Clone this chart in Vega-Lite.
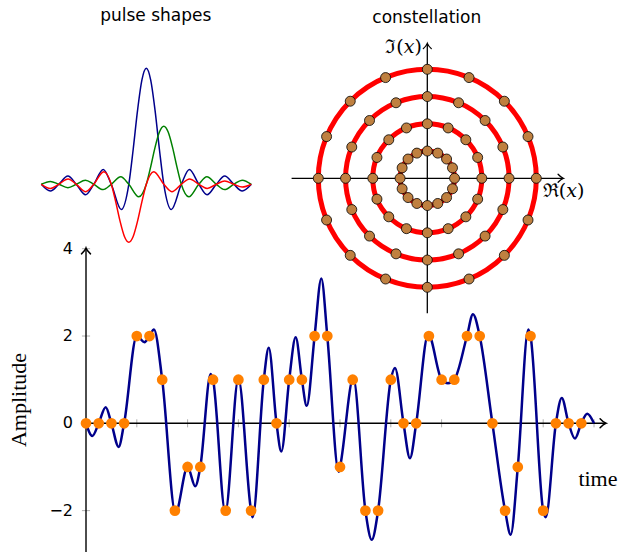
{
  "$schema": "https://vega.github.io/schema/vega-lite/v6.json",
  "width": 621,
  "height": 552,
  "padding": 0,
  "autosize": {"type": "none"},
  "background": "white",
  "config": {"view": {"stroke": null}},
  "datasets": {
    "signal": [
      {"t": 0, "v": 0}, {"t": 0.5, "v": -0.29}, {"t": 1, "v": 0}, {"t": 1.55, "v": 0.37}, {"t": 2, "v": 0},
      {"t": 2.57, "v": -0.54}, {"t": 3, "v": 0}, {"t": 4, "v": 2}, {"t": 4.6, "v": 1.86}, {"t": 5, "v": 2},
      {"t": 5.35, "v": 2.15}, {"t": 6, "v": 1}, {"t": 7.05, "v": -2.05}, {"t": 8, "v": -1}, {"t": 8.6, "v": -1.44},
      {"t": 9, "v": -1}, {"t": 9.82, "v": 1.13}, {"t": 10, "v": 1}, {"t": 10.97, "v": -2.03}, {"t": 12, "v": 1.02},
      {"t": 13, "v": -2}, {"t": 13.12, "v": -2.15}, {"t": 14, "v": 1}, {"t": 14.39, "v": 1.73}, {"t": 15, "v": 0},
      {"t": 15.38, "v": -0.645}, {"t": 16, "v": 1}, {"t": 16.51, "v": 1.97}, {"t": 17, "v": 1}, {"t": 17.38, "v": 0.4},
      {"t": 18, "v": 2}, {"t": 18.53, "v": 3.32}, {"t": 19, "v": 2}, {"t": 19.9, "v": -1.11}, {"t": 20, "v": -1},
      {"t": 21.05, "v": 1.03}, {"t": 22, "v": -2}, {"t": 22.5, "v": -2.67}, {"t": 23, "v": -2}, {"t": 24, "v": 1},
      {"t": 24.33, "v": 1.27}, {"t": 25, "v": 0}, {"t": 25.51, "v": -0.8}, {"t": 26, "v": 0}, {"t": 26.95, "v": 2.04},
      {"t": 28, "v": 1}, {"t": 28.5, "v": 0.92}, {"t": 29, "v": 1}, {"t": 30, "v": 2}, {"t": 30.47, "v": 2.5},
      {"t": 31, "v": 2}, {"t": 32, "v": 0}, {"t": 33, "v": -2}, {"t": 33.44, "v": -2.55}, {"t": 34, "v": -1},
      {"t": 34.83, "v": 2.15}, {"t": 35, "v": 2}, {"t": 36, "v": -2}, {"t": 36.2, "v": -2.15}, {"t": 37, "v": 0},
      {"t": 37.46, "v": 0.58}, {"t": 38, "v": 0}, {"t": 38.5, "v": -0.35}, {"t": 39, "v": 0}, {"t": 39.47, "v": 0.22},
      {"t": 40, "v": 0}
    ],
    "samples": [
      {"n": 0, "a": 0}, {"n": 1, "a": 0}, {"n": 2, "a": 0}, {"n": 3, "a": 0}, {"n": 4, "a": 2},
      {"n": 5, "a": 2}, {"n": 6, "a": 1}, {"n": 7, "a": -2}, {"n": 8, "a": -1}, {"n": 9, "a": -1},
      {"n": 10, "a": 1}, {"n": 11, "a": -2}, {"n": 12, "a": 1}, {"n": 13, "a": -2}, {"n": 14, "a": 1},
      {"n": 15, "a": 0}, {"n": 16, "a": 1}, {"n": 17, "a": 1}, {"n": 18, "a": 2}, {"n": 19, "a": 2},
      {"n": 20, "a": -1}, {"n": 21, "a": 1}, {"n": 22, "a": -2}, {"n": 23, "a": -2}, {"n": 24, "a": 1},
      {"n": 25, "a": 0}, {"n": 26, "a": 0}, {"n": 27, "a": 2}, {"n": 28, "a": 1}, {"n": 29, "a": 1},
      {"n": 30, "a": 2}, {"n": 31, "a": 2}, {"n": 32, "a": 0}, {"n": 33, "a": -2}, {"n": 34, "a": -1},
      {"n": 35, "a": 2}, {"n": 36, "a": -2}, {"n": 37, "a": 0}, {"n": 38, "a": 0}, {"n": 39, "a": 0}
    ],
    "xticks": [
      {"t": 4}, {"t": 8}, {"t": 12}, {"t": 16}, {"t": 20}, {"t": 24}, {"t": 28}, {"t": 32}, {"t": 36}, {"t": 40}
    ],
    "yticks": [{"v": -2}, {"v": 2}, {"v": 4}],
    "ylabels": [
      {"v": 4, "label": "4"}, {"v": 2, "label": "2"}, {"v": 0, "label": "0"}, {"v": -2, "label": "−2"}
    ],
    "pulse_centre": [
      {"t": -6, "v": 0}, {"t": -5.48, "v": -0.058}, {"t": -5, "v": 0}, {"t": -4.48, "v": 0.071}, {"t": -4, "v": 0},
      {"t": -3.47, "v": -0.091}, {"t": -3, "v": 0}, {"t": -2.46, "v": 0.128}, {"t": -2, "v": 0},
      {"t": -1.43, "v": -0.217}, {"t": -1, "v": 0}, {"t": -0.75, "v": 0.3}, {"t": -0.5, "v": 0.637},
      {"t": -0.25, "v": 0.9}, {"t": 0, "v": 1}, {"t": 0.25, "v": 0.9}, {"t": 0.5, "v": 0.637}, {"t": 0.75, "v": 0.3},
      {"t": 1, "v": 0}, {"t": 1.43, "v": -0.217}, {"t": 2, "v": 0}, {"t": 2.46, "v": 0.128}, {"t": 3, "v": 0},
      {"t": 3.47, "v": -0.091}, {"t": 4, "v": 0}, {"t": 4.48, "v": 0.071}, {"t": 5, "v": 0},
      {"t": 5.48, "v": -0.058}, {"t": 6, "v": 0}
    ],
    "pulse_late": [
      {"t": -6, "v": 0}, {"t": -5.48, "v": 0.0245}, {"t": -5, "v": 0}, {"t": -4.48, "v": -0.029}, {"t": -4, "v": 0},
      {"t": -3.48, "v": 0.0355}, {"t": -3, "v": 0}, {"t": -2.47, "v": -0.0457}, {"t": -2, "v": 0},
      {"t": -1.46, "v": 0.0642}, {"t": -1, "v": 0}, {"t": -0.43, "v": -0.1086}, {"t": 0, "v": 0},
      {"t": 0.25, "v": 0.15}, {"t": 0.5, "v": 0.318}, {"t": 0.75, "v": 0.45}, {"t": 1, "v": 0.5},
      {"t": 1.25, "v": 0.45}, {"t": 1.5, "v": 0.318}, {"t": 1.75, "v": 0.15}, {"t": 2, "v": 0},
      {"t": 2.43, "v": -0.1086}, {"t": 3, "v": 0}, {"t": 3.46, "v": 0.0642}, {"t": 4, "v": 0},
      {"t": 4.47, "v": -0.0457}, {"t": 5, "v": 0}, {"t": 5.48, "v": 0.0355}, {"t": 6, "v": 0}
    ],
    "pulse_early": [
      {"t": -6, "v": 0}, {"t": -5.48, "v": -0.0355}, {"t": -5, "v": 0}, {"t": -4.47, "v": 0.0457}, {"t": -4, "v": 0},
      {"t": -3.46, "v": -0.0642}, {"t": -3, "v": 0}, {"t": -2.43, "v": 0.1086}, {"t": -2, "v": 0},
      {"t": -1.75, "v": -0.15}, {"t": -1.5, "v": -0.318}, {"t": -1.25, "v": -0.45}, {"t": -1, "v": -0.5},
      {"t": -0.75, "v": -0.45}, {"t": -0.5, "v": -0.318}, {"t": -0.25, "v": -0.15}, {"t": 0, "v": 0},
      {"t": 0.43, "v": 0.1086}, {"t": 1, "v": 0}, {"t": 1.46, "v": -0.0642}, {"t": 2, "v": 0},
      {"t": 2.47, "v": 0.0457}, {"t": 3, "v": 0}, {"t": 3.48, "v": -0.0355}, {"t": 4, "v": 0},
      {"t": 4.48, "v": 0.029}, {"t": 5, "v": 0}, {"t": 5.48, "v": -0.0245}, {"t": 6, "v": 0}
    ],
    "rings": [{"r": 1}, {"r": 2}, {"r": 3}, {"r": 4}],
    "symbols": [
      {"re": 1, "im": 0}, {"re": 0.924, "im": 0.383}, {"re": 0.707, "im": 0.707}, {"re": 0.383, "im": 0.924},
      {"re": 0, "im": 1}, {"re": -0.383, "im": 0.924}, {"re": -0.707, "im": 0.707}, {"re": -0.924, "im": 0.383},
      {"re": -1, "im": 0}, {"re": -0.924, "im": -0.383}, {"re": -0.707, "im": -0.707}, {"re": -0.383, "im": -0.924},
      {"re": 0, "im": -1}, {"re": 0.383, "im": -0.924}, {"re": 0.707, "im": -0.707}, {"re": 0.924, "im": -0.383},
      {"re": 2, "im": 0}, {"re": 1.848, "im": 0.765}, {"re": 1.414, "im": 1.414}, {"re": 0.765, "im": 1.848},
      {"re": 0, "im": 2}, {"re": -0.765, "im": 1.848}, {"re": -1.414, "im": 1.414}, {"re": -1.848, "im": 0.765},
      {"re": -2, "im": 0}, {"re": -1.848, "im": -0.765}, {"re": -1.414, "im": -1.414}, {"re": -0.765, "im": -1.848},
      {"re": 0, "im": -2}, {"re": 0.765, "im": -1.848}, {"re": 1.414, "im": -1.414}, {"re": 1.848, "im": -0.765},
      {"re": 3, "im": 0}, {"re": 2.772, "im": 1.148}, {"re": 2.121, "im": 2.121}, {"re": 1.148, "im": 2.772},
      {"re": 0, "im": 3}, {"re": -1.148, "im": 2.772}, {"re": -2.121, "im": 2.121}, {"re": -2.772, "im": 1.148},
      {"re": -3, "im": 0}, {"re": -2.772, "im": -1.148}, {"re": -2.121, "im": -2.121}, {"re": -1.148, "im": -2.772},
      {"re": 0, "im": -3}, {"re": 1.148, "im": -2.772}, {"re": 2.121, "im": -2.121}, {"re": 2.772, "im": -1.148},
      {"re": 4, "im": 0}, {"re": 3.696, "im": 1.531}, {"re": 2.828, "im": 2.828}, {"re": 1.531, "im": 3.696},
      {"re": 0, "im": 4}, {"re": -1.531, "im": 3.696}, {"re": -2.828, "im": 2.828}, {"re": -3.696, "im": 1.531},
      {"re": -4, "im": 0}, {"re": -3.696, "im": -1.531}, {"re": -2.828, "im": -2.828}, {"re": -1.531, "im": -3.696},
      {"re": 0, "im": -4}, {"re": 1.531, "im": -3.696}, {"re": 2.828, "im": -2.828}, {"re": 3.696, "im": -1.531}
    ]
  },
  "layer": [
    {
      "layer": [
        {
          "data": {"name": "xticks"},
          "mark": {"type": "rule", "color": "#9a9a9a", "strokeWidth": 0.8},
          "encoding": {
            "x": {"field": "t", "type": "quantitative", "scale": {"domain": [-6.772, 42.126], "nice": false, "zero": false}, "axis": null},
            "y": {"datum": -0.092, "type": "quantitative", "scale": {"domain": [-2.948, 9.698], "nice": false, "zero": false}, "axis": null},
            "y2": {"datum": 0.092}
          }
        },
        {
          "data": {"name": "yticks"},
          "mark": {"type": "rule", "color": "#9a9a9a", "strokeWidth": 0.8},
          "encoding": {
            "y": {"field": "v", "type": "quantitative", "scale": {"domain": [-2.948, 9.698], "nice": false, "zero": false}, "axis": null},
            "x": {"datum": -0.32, "type": "quantitative", "scale": {"domain": [-6.772, 42.126], "nice": false, "zero": false}, "axis": null},
            "x2": {"datum": 0.32}
          }
        },
        {
          "data": {"values": [{}]},
          "mark": {"type": "rule", "color": "black", "strokeWidth": 1.4},
          "encoding": {
            "x": {"datum": 0, "type": "quantitative", "scale": {"domain": [-6.772, 42.126], "nice": false, "zero": false}, "axis": null},
            "x2": {"datum": 40.9},
            "y": {"datum": 0, "type": "quantitative", "scale": {"domain": [-2.948, 9.698], "nice": false, "zero": false}, "axis": null}
          }
        },
        {
          "data": {"values": [{}]},
          "mark": {"type": "rule", "color": "black", "strokeWidth": 1.4},
          "encoding": {
            "x": {"datum": 0, "type": "quantitative", "scale": {"domain": [-6.772, 42.126], "nice": false, "zero": false}, "axis": null},
            "y": {"datum": -3, "type": "quantitative", "scale": {"domain": [-2.948, 9.698], "nice": false, "zero": false}, "axis": null},
            "y2": {"datum": 4.0}
          }
        },
        {
          "data": {"values": [{}]},
          "mark": {"type": "point", "shape": "M -1.3 -1 C -0.8 -0.45 -0.35 -0.12 0 0 C -0.35 0.12 -0.8 0.45 -1.3 1", "filled": false, "stroke": "black", "strokeWidth": 1.5, "size": 81, "opacity": 1, "strokeCap": "round"},
          "encoding": {
            "x": {"datum": 40.94, "type": "quantitative", "scale": {"domain": [-6.772, 42.126], "nice": false, "zero": false}, "axis": null},
            "y": {"datum": 0, "type": "quantitative", "scale": {"domain": [-2.948, 9.698], "nice": false, "zero": false}, "axis": null}
          }
        },
        {
          "data": {"values": [{}]},
          "mark": {"type": "point", "shape": "M -1 1.3 C -0.45 0.8 -0.12 0.35 0 0 C 0.12 0.35 0.45 0.8 1 1.3", "filled": false, "stroke": "black", "strokeWidth": 1.5, "size": 81, "opacity": 1, "strokeCap": "round"},
          "encoding": {
            "x": {"datum": 0, "type": "quantitative", "scale": {"domain": [-6.772, 42.126], "nice": false, "zero": false}, "axis": null},
            "y": {"datum": 4.016, "type": "quantitative", "scale": {"domain": [-2.948, 9.698], "nice": false, "zero": false}, "axis": null}
          }
        },
        {
          "data": {"name": "signal"},
          "mark": {"type": "line", "interpolate": "monotone", "color": "#00008B", "strokeWidth": 2.5},
          "encoding": {
            "x": {"field": "t", "type": "quantitative", "scale": {"domain": [-6.772, 42.126], "nice": false, "zero": false}, "axis": null},
            "y": {"field": "v", "type": "quantitative", "scale": {"domain": [-2.948, 9.698], "nice": false, "zero": false}, "axis": null}
          }
        },
        {
          "data": {"name": "samples"},
          "mark": {"type": "point", "filled": true, "color": "#FF8000", "size": 115, "opacity": 1, "strokeWidth": 0},
          "encoding": {
            "x": {"field": "n", "type": "quantitative", "scale": {"domain": [-6.772, 42.126], "nice": false, "zero": false}, "axis": null},
            "y": {"field": "a", "type": "quantitative", "scale": {"domain": [-2.948, 9.698], "nice": false, "zero": false}, "axis": null}
          }
        },
        {
          "data": {"name": "ylabels"},
          "mark": {"type": "text", "align": "right", "baseline": "middle", "dx": -13, "font": "DejaVu Sans", "fontSize": 16, "color": "black"},
          "encoding": {
            "x": {"datum": 0, "type": "quantitative", "scale": {"domain": [-6.772, 42.126], "nice": false, "zero": false}, "axis": null},
            "y": {"field": "v", "type": "quantitative", "scale": {"domain": [-2.948, 9.698], "nice": false, "zero": false}, "axis": null},
            "text": {"field": "label"}
          }
        },
        {
          "data": {"values": [{}]},
          "mark": {"type": "text", "text": "Amplitude", "angle": 270, "align": "center", "baseline": "middle", "font": "Liberation Serif", "fontSize": 22, "color": "black"},
          "encoding": {
            "x": {"datum": -5.31, "type": "quantitative", "scale": {"domain": [-6.772, 42.126], "nice": false, "zero": false}, "axis": null},
            "y": {"datum": 0.534, "type": "quantitative", "scale": {"domain": [-2.948, 9.698], "nice": false, "zero": false}, "axis": null}
          }
        },
        {
          "data": {"values": [{}]},
          "mark": {"type": "text", "text": "time", "align": "center", "baseline": "alphabetic", "font": "Liberation Serif", "fontSize": 22, "color": "black"},
          "encoding": {
            "x": {"datum": 40.31, "type": "quantitative", "scale": {"domain": [-6.772, 42.126], "nice": false, "zero": false}, "axis": null},
            "y": {"datum": -1.436, "type": "quantitative", "scale": {"domain": [-2.948, 9.698], "nice": false, "zero": false}, "axis": null}
          }
        }
      ]
    },
    {
      "layer": [
        {
          "data": {"name": "pulse_centre"},
          "mark": {"type": "line", "interpolate": "monotone", "color": "#00008B", "strokeWidth": 1.5},
          "encoding": {
            "x": {"field": "t", "type": "quantitative", "scale": {"domain": [-8.36, 27.126], "nice": false, "zero": false}, "axis": null},
            "y": {"field": "v", "type": "quantitative", "scale": {"domain": [-3.1707, 1.5888], "nice": false, "zero": false}, "axis": null}
          }
        },
        {
          "data": {"name": "pulse_late"},
          "mark": {"type": "line", "interpolate": "monotone", "color": "#008000", "strokeWidth": 1.5},
          "encoding": {
            "x": {"field": "t", "type": "quantitative", "scale": {"domain": [-8.36, 27.126], "nice": false, "zero": false}, "axis": null},
            "y": {"field": "v", "type": "quantitative", "scale": {"domain": [-3.1707, 1.5888], "nice": false, "zero": false}, "axis": null}
          }
        },
        {
          "data": {"name": "pulse_early"},
          "mark": {"type": "line", "interpolate": "monotone", "color": "#FF0000", "strokeWidth": 1.5},
          "encoding": {
            "x": {"field": "t", "type": "quantitative", "scale": {"domain": [-8.36, 27.126], "nice": false, "zero": false}, "axis": null},
            "y": {"field": "v", "type": "quantitative", "scale": {"domain": [-3.1707, 1.5888], "nice": false, "zero": false}, "axis": null}
          }
        },
        {
          "data": {"values": [{}]},
          "mark": {"type": "text", "text": "pulse shapes", "align": "center", "baseline": "alphabetic", "font": "DejaVu Sans", "fontSize": 17, "color": "black"},
          "encoding": {
            "x": {"datum": 0.54, "type": "quantitative", "scale": {"domain": [-8.36, 27.126], "nice": false, "zero": false}, "axis": null},
            "y": {"datum": 1.408, "type": "quantitative", "scale": {"domain": [-3.1707, 1.5888], "nice": false, "zero": false}, "axis": null}
          }
        }
      ]
    },
    {
      "layer": [
        {
          "data": {"name": "rings"},
          "mark": {"type": "point", "shape": "circle", "filled": false, "stroke": "#FF0000", "strokeWidth": 5, "opacity": 1},
          "encoding": {
            "x": {"datum": 0, "type": "quantitative", "scale": {"domain": [-15.681, 7.108], "nice": false, "zero": false}, "axis": null},
            "y": {"datum": 0, "type": "quantitative", "scale": {"domain": [-13.714, 6.543], "nice": false, "zero": false}, "axis": null},
            "size": {"field": "r", "type": "quantitative", "scale": {"type": "pow", "exponent": 2, "domain": [0, 4], "range": [0, 47524]}, "legend": null}
          }
        },
        {
          "data": {"values": [{}]},
          "mark": {"type": "rule", "color": "black", "strokeWidth": 1.3},
          "encoding": {
            "x": {"datum": -4.98, "type": "quantitative", "scale": {"domain": [-15.681, 7.108], "nice": false, "zero": false}, "axis": null},
            "x2": {"datum": 4.97},
            "y": {"datum": 0, "type": "quantitative", "scale": {"domain": [-13.714, 6.543], "nice": false, "zero": false}, "axis": null}
          }
        },
        {
          "data": {"values": [{}]},
          "mark": {"type": "rule", "color": "black", "strokeWidth": 1.3},
          "encoding": {
            "x": {"datum": 0, "type": "quantitative", "scale": {"domain": [-15.681, 7.108], "nice": false, "zero": false}, "axis": null},
            "y": {"datum": -4.95, "type": "quantitative", "scale": {"domain": [-13.714, 6.543], "nice": false, "zero": false}, "axis": null},
            "y2": {"datum": 4.93}
          }
        },
        {
          "data": {"values": [{}]},
          "mark": {"type": "point", "shape": "M -1.3 -1 C -0.8 -0.45 -0.35 -0.12 0 0 C -0.35 0.12 -0.8 0.45 -1.3 1", "filled": false, "stroke": "black", "strokeWidth": 1.3, "size": 64, "opacity": 1, "strokeCap": "round"},
          "encoding": {
            "x": {"datum": 4.99, "type": "quantitative", "scale": {"domain": [-15.681, 7.108], "nice": false, "zero": false}, "axis": null},
            "y": {"datum": 0, "type": "quantitative", "scale": {"domain": [-13.714, 6.543], "nice": false, "zero": false}, "axis": null}
          }
        },
        {
          "data": {"values": [{}]},
          "mark": {"type": "point", "shape": "M -1 1.3 C -0.45 0.8 -0.12 0.35 0 0 C 0.12 0.35 0.45 0.8 1 1.3", "filled": false, "stroke": "black", "strokeWidth": 1.3, "size": 64, "opacity": 1, "strokeCap": "round"},
          "encoding": {
            "x": {"datum": 0, "type": "quantitative", "scale": {"domain": [-15.681, 7.108], "nice": false, "zero": false}, "axis": null},
            "y": {"datum": 4.95, "type": "quantitative", "scale": {"domain": [-13.714, 6.543], "nice": false, "zero": false}, "axis": null}
          }
        },
        {
          "data": {"name": "symbols"},
          "mark": {"type": "point", "shape": "circle", "filled": true, "fill": "#BF8040", "stroke": "black", "strokeWidth": 0.8, "size": 100, "opacity": 1},
          "encoding": {
            "x": {"field": "re", "type": "quantitative", "scale": {"domain": [-15.681, 7.108], "nice": false, "zero": false}, "axis": null},
            "y": {"field": "im", "type": "quantitative", "scale": {"domain": [-13.714, 6.543], "nice": false, "zero": false}, "axis": null}
          }
        },
        {
          "data": {"values": [{}]},
          "mark": {"type": "text", "text": "ℜ(𝑥)", "align": "center", "baseline": "middle", "font": "DejaVu Serif", "fontSize": 19, "color": "black"},
          "encoding": {
            "x": {"datum": 5.0, "type": "quantitative", "scale": {"domain": [-15.681, 7.108], "nice": false, "zero": false}, "axis": null},
            "y": {"datum": -0.484, "type": "quantitative", "scale": {"domain": [-13.714, 6.543], "nice": false, "zero": false}, "axis": null}
          }
        },
        {
          "data": {"values": [{}]},
          "mark": {"type": "text", "text": "ℑ(𝑥)", "align": "right", "baseline": "middle", "font": "DejaVu Serif", "fontSize": 19, "color": "black"},
          "encoding": {
            "x": {"datum": -0.2, "type": "quantitative", "scale": {"domain": [-15.681, 7.108], "nice": false, "zero": false}, "axis": null},
            "y": {"datum": 4.8, "type": "quantitative", "scale": {"domain": [-13.714, 6.543], "nice": false, "zero": false}, "axis": null}
          }
        },
        {
          "data": {"values": [{}]},
          "mark": {"type": "text", "text": "constellation", "align": "center", "baseline": "alphabetic", "font": "DejaVu Sans", "fontSize": 17, "color": "black"},
          "encoding": {
            "x": {"datum": -0.02, "type": "quantitative", "scale": {"domain": [-15.681, 7.108], "nice": false, "zero": false}, "axis": null},
            "y": {"datum": 5.7, "type": "quantitative", "scale": {"domain": [-13.714, 6.543], "nice": false, "zero": false}, "axis": null}
          }
        }
      ]
    }
  ],
  "resolve": {"scale": {"x": "independent", "y": "independent", "size": "independent"}}
}
